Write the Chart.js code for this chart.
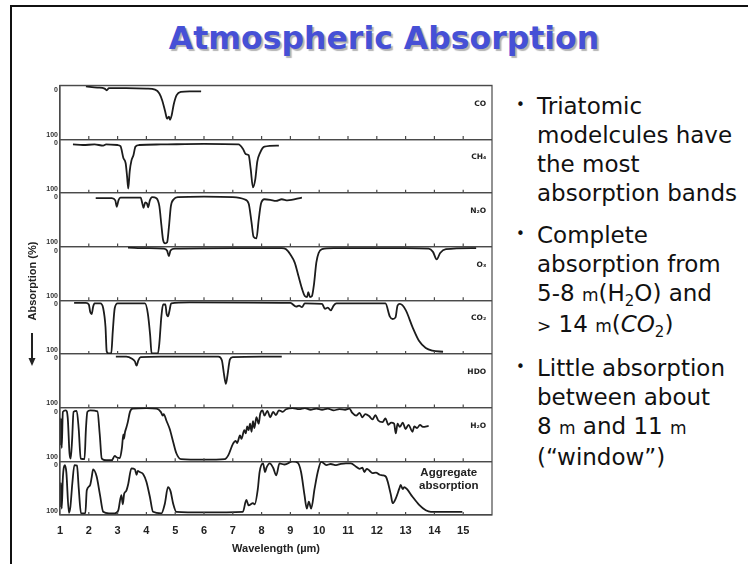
<!DOCTYPE html>
<html>
<head>
<meta charset="utf-8">
<script src="https://cdn.jsdelivr.net/npm/chart.js@4.4.1/dist/chart.umd.min.js"></script>
<style>
  html, body { margin: 0; padding: 0; background: #fff; }
  #slide { position: relative; width: 748px; height: 564px; overflow: hidden; }
  #frame { position: absolute; left: 10px; top: 5px; width: 800px; height: 600px;
           border-left: 2px solid #111; border-top: 2px solid #111; }
  #title { position: absolute; left: 10px; width: 748px; top: 20px; text-align: center;
           font: bold 31.5px "DejaVu Sans", sans-serif; color: #4650d6;
           text-shadow: 2px 2px 1px #b4b4b4; }
  #chartBox { position: absolute; left: 0; top: 75px; width: 500px; height: 489px; }
  #notes { position: absolute; left: 537px; top: 91.6px; margin: 0; padding: 0; list-style: none;
           font: 23px/29px "DejaVu Sans", sans-serif; color: #111; white-space: nowrap; }
  #notes li { position: relative; margin: 0 0 13px 0; }
  #notes li::before { content: "\2022"; position: absolute; left: -21px; top: -1px; font-size: 15px; }
  #notes small { font-size: 17px; }
  #notes sub { font-size: 15px; line-height: 0; vertical-align: -0.3em; }
</style>
</head>
<body>
<div id="slide">
  <div id="frame"></div>
  <div id="title">Atmospheric Absorption</div>
  <div id="chartBox"><canvas id="chart" width="500" height="489"></canvas></div>
  <ul id="notes">
    <li>Triatomic<br>modelcules have<br>the most<br>absorption bands</li>
    <li>Complete<br>absorption from<br>5-8 <small>m</small>(H<sub>2</sub>O) and<br><small>&gt;</small> 14 <small>m</small>(<i>CO</i><sub>2</sub>)</li>
    <li>Little absorption<br>between about<br>8 <small>m</small> and 11 <small>m</small><br>(“window”)</li>
  </ul>
</div>
<script>
// wavelength axis (µm) and panel labels, top to bottom
const xTicks = [1, 2, 3, 4, 5, 6, 7, 8, 9, 10, 11, 12, 13, 14, 15];
const yTicks = [0, 100];
const panelNames = ['CO', 'CH₄', 'N₂O', 'O₃', 'CO₂', 'HDO', 'H₂O', 'Aggregate absorption'];

// absorption (%)
const coWl  = [1.9, 2.3, 2.55, 2.62, 2.7, 3.3, 4.0, 4.3, 4.45, 4.55, 4.65, 4.72, 4.78, 4.82, 4.88, 4.95, 5.05, 5.2, 5.5, 5.9];
const coAbs = [2, 4, 6, 9, 5, 5, 6, 8, 15, 28, 48, 62, 58, 64, 55, 35, 18, 12, 11, 11];

const ch4Wl  = [1.45, 1.8, 2.2, 2.5, 2.6, 3.0, 3.1, 3.2, 3.28, 3.33, 3.37, 3.42, 3.48, 3.55, 3.62, 3.75, 4.5, 6.0, 7.2, 7.35, 7.45, 7.55, 7.62, 7.7, 7.78, 7.85, 7.95, 8.1, 8.6];
const ch4Abs = [10, 11, 10, 12, 10, 11, 13, 35, 45, 70, 92, 60, 40, 30, 14, 11, 10, 9, 10, 18, 28, 30, 55, 90, 75, 42, 25, 14, 12];

const n2oWl  = [2.24, 2.8, 2.92, 2.97, 3.03, 3.1, 3.8, 3.86, 3.9, 3.96, 4.02, 4.06, 4.12, 4.2, 4.35, 4.45, 4.52, 4.58, 4.65, 4.72, 4.78, 4.85, 4.95, 5.1, 6.0, 7.0, 7.4, 7.55, 7.65, 7.72, 7.82, 7.9, 7.98, 8.1, 8.3, 8.5, 8.7, 8.9, 9.4];
const n2oAbs = [10, 10, 14, 26, 14, 9, 9, 20, 28, 18, 20, 27, 14, 8, 10, 25, 60, 88, 94, 92, 65, 25, 12, 8, 7, 8, 12, 20, 55, 82, 85, 50, 20, 12, 13, 15, 12, 14, 9];

const o3Wl  = [3.36, 4.0, 4.6, 4.72, 4.78, 4.84, 5.0, 7.0, 8.7, 8.85, 9.0, 9.15, 9.28, 9.4, 9.5, 9.58, 9.62, 9.68, 9.75, 9.82, 9.9, 9.98, 10.1, 10.5, 13.0, 13.8, 13.95, 14.08, 14.2, 14.4, 15.45];
const o3Abs = [2, 3, 4, 8, 18, 7, 4, 3, 3, 5, 15, 30, 55, 78, 92, 94, 85, 94, 92, 70, 30, 12, 5, 3, 3, 4, 10, 24, 12, 5, 3];

const co2Wl  = [1.49, 1.9, 2.0, 2.05, 2.1, 2.15, 2.2, 2.4, 2.5, 2.58, 2.62, 2.68, 2.78, 2.83, 2.9, 3.0, 3.95, 4.05, 4.13, 4.18, 4.4, 4.45, 4.52, 4.58, 4.66, 4.7, 4.75, 4.8, 4.86, 5.5, 9.0, 9.2, 9.3, 9.4, 9.5, 10.1, 10.2, 10.3, 10.4, 10.5, 10.6, 12.3, 12.45, 12.55, 12.65, 12.72, 12.8, 13.0, 13.24, 13.47, 13.7, 13.93, 14.3];
const co2Abs = [5, 5, 8, 22, 26, 12, 6, 6, 15, 50, 95, 99, 99, 60, 15, 6, 6, 25, 65, 99, 99, 80, 30, 8, 8, 25, 30, 20, 6, 4, 5, 12, 10, 13, 6, 7, 16, 14, 19, 10, 6, 6, 30, 35, 32, 10, 7, 18, 50, 76, 89, 94, 96];

const hdoWl  = [2.94, 3.3, 3.5, 3.6, 3.66, 3.72, 3.8, 4.5, 6.5, 6.62, 6.7, 6.76, 6.82, 6.9, 7.0, 8.0, 8.7];
const hdoAbs = [5, 5, 9, 14, 22, 12, 6, 5, 5, 12, 40, 56, 38, 10, 6, 5, 5];

const h2oWl  = [1.0, 1.03, 1.06, 1.1, 1.2, 1.27, 1.33, 1.37, 1.42, 1.47, 1.58, 1.65, 1.72, 1.85, 1.9, 1.95, 2.05, 2.3, 2.38, 2.45, 2.6, 2.8, 2.9, 2.98, 3.08, 3.15, 3.2, 3.22, 3.26, 3.3, 3.35, 3.43, 3.52, 4.0, 4.35, 4.5, 4.57, 4.6, 4.7, 4.81, 4.93, 5.04, 5.2, 6.0, 6.72, 6.85, 7.0, 7.1, 7.15, 7.25, 7.3, 7.4, 7.45, 7.5, 7.55, 7.6, 7.65, 7.7, 7.75, 7.82, 7.9, 7.95, 8.03, 8.1, 8.2, 8.3, 8.4, 8.5, 8.6, 8.73, 8.85, 9.08, 9.3, 9.5, 9.7, 9.9, 10.1, 10.3, 10.5, 10.7, 10.9, 11.05, 11.15, 11.28, 11.4, 11.5, 11.6, 11.74, 11.85, 11.95, 12.05, 12.2, 12.3, 12.4, 12.5, 12.6, 12.66, 12.72, 12.8, 12.9, 13.0, 13.1, 13.24, 13.3, 13.4, 13.5, 13.6, 13.8];
const h2oAbs = [70, 20, 75, 8, 5, 20, 85, 95, 60, 8, 6, 40, 95, 96, 40, 8, 5, 7, 50, 95, 98, 98, 90, 93, 94, 75, 50, 58, 45, 38, 28, 8, 2, 1, 2, 8, 15, 12, 25, 40, 64, 85, 96, 97, 96, 88, 68, 62, 66, 52, 58, 42, 48, 35, 42, 30, 45, 25, 38, 18, 30, 12, 5, 15, 6, 18, 8, 14, 5, 8, 3, 1, 3, 1, 4, 2, 4, 2, 5, 3, 4, 2, 10, 15, 10, 18, 12, 16, 22, 14, 24, 27, 20, 32, 28, 30, 48, 30, 36, 28, 40, 32, 45, 35, 38, 32, 36, 34];

const aggWl  = [1.0, 1.03, 1.06, 1.1, 1.17, 1.22, 1.31, 1.36, 1.43, 1.5, 1.59, 1.65, 1.73, 1.88, 1.93, 2.04, 2.1, 2.15, 2.27, 2.39, 2.5, 2.7, 2.9, 3.02, 3.13, 3.18, 3.23, 3.3, 3.37, 3.48, 3.6, 3.66, 3.7, 3.77, 3.89, 4.0, 4.12, 4.23, 4.52, 4.64, 4.75, 4.84, 4.93, 5.04, 6.0, 7.35, 7.47, 7.55, 7.7, 7.76, 7.87, 7.93, 8.05, 8.12, 8.17, 8.28, 8.4, 8.51, 8.62, 8.8, 9.08, 9.26, 9.37, 9.49, 9.57, 9.64, 9.72, 9.84, 9.95, 10.07, 10.25, 10.4, 10.59, 10.75, 10.93, 11.1, 11.28, 11.4, 11.5, 11.57, 11.65, 11.74, 11.85, 11.97, 12.1, 12.2, 12.32, 12.38, 12.49, 12.55, 12.66, 12.78, 12.83, 12.9, 12.95, 13.05, 13.24, 13.47, 13.7, 13.88, 14.97];
const aggAbs = [85, 40, 88, 30, 7, 20, 96, 85, 40, 7, 8, 50, 97, 97, 54, 45, 30, 15, 28, 63, 94, 97, 97, 92, 63, 80, 60, 55, 42, 13, 15, 25, 18, 20, 24, 38, 66, 94, 97, 79, 48, 56, 79, 94, 95, 94, 72, 82, 78, 80, 51, 20, 4, 20, 12, 4, 12, 26, 4, 6, 0, 3, 20, 63, 88, 75, 88, 51, 20, 1, 7, 5, 7, 5, 4, 4, 10, 14, 12, 20, 14, 17, 22, 21, 25, 26, 29, 38, 63, 78, 69, 51, 44, 52, 48, 52, 66, 81, 91, 94, 94];

const series = [
  [coWl, coAbs], [ch4Wl, ch4Abs], [n2oWl, n2oAbs], [o3Wl, o3Abs],
  [co2Wl, co2Abs], [hdoWl, hdoAbs], [h2oWl, h2oAbs], [aggWl, aggAbs]
];
const panelIds = series.map((_, i) => 'p' + i);

const tickFont = { family: 'Liberation Sans', size: 11, weight: 'bold' };

function panelAxis() {
  return {
    type: 'linear', position: 'left', stack: 'panels', stackWeight: 1,
    reverse: true, min: 0, max: 100,
    afterBuildTicks: ax => { ax.ticks = yTicks.map(v => ({ value: v })); },
    afterFit: ax => { ax.width = 20; },
    grid: { color: '#4a4a4a', lineWidth: 1.2, drawTicks: false },
    border: { display: true, color: '#4a4a4a', width: 1.2 },
    ticks: {
      padding: 2, color: '#333',
      font: { family: 'Liberation Sans', size: 7, weight: 'bold' },
      // push 0 below the panel top and 100 above the panel floor
      callback: v => v === 0 ? ['', '0'] : ['100', '']
    }
  };
}

const scales = {
  x: {
    type: 'linear', position: 'bottom', min: 1, max: 16,
    afterBuildTicks: ax => { ax.ticks = xTicks.map(v => ({ value: v })); },
    afterFit: ax => { ax.height = 41; },
    grid: { display: false, drawTicks: false }, border: { display: false },
    ticks: { padding: 9, color: '#222', font: tickFont, maxRotation: 0, autoSkip: false },
    title: { display: true, text: 'Wavelength (µm)', color: '#222', font: tickFont, padding: { top: 0, bottom: 0 } }
  }
};
// left stacks are laid out last-defined on top, so add the bottom panel first
for (let i = panelIds.length - 1; i >= 0; i--) scales[panelIds[i]] = panelAxis();

const panelDecor = {
  id: 'panelDecor',
  afterDraw(chart) {
    const { ctx, chartArea: a } = chart;
    const xs = chart.scales.x;
    ctx.save();
    ctx.strokeStyle = '#4a4a4a';
    ctx.lineWidth = 1.2;
    ctx.strokeRect(a.left, a.top, a.right - a.left, a.bottom - a.top);
    ctx.beginPath();
    panelIds.forEach(id => {
      const yb = chart.scales[id].getPixelForValue(100);
      xTicks.slice(1).forEach(v => {
        const px = xs.getPixelForValue(v);
        ctx.moveTo(px, yb); ctx.lineTo(px, yb - 3);
      });
    });
    ctx.stroke();

    // gas names at the right of each panel
    ctx.fillStyle = '#222';
    ctx.textAlign = 'right';
    ctx.textBaseline = 'middle';
    ctx.font = 'bold 7.5px "DejaVu Sans"';
    panelNames.slice(0, 7).forEach((name, i) => {
      ctx.fillText(name, xs.getPixelForValue(15.8), chart.scales[panelIds[i]].getPixelForValue(34));
    });
    const last = chart.scales[panelIds[7]];
    ctx.textAlign = 'center';
    ctx.font = 'bold 11.5px "Liberation Sans"';
    const [w1, w2] = panelNames[7].split(' ');
    ctx.fillText(w1, xs.getPixelForValue(14.5), last.getPixelForValue(21));
    ctx.fillText(w2, xs.getPixelForValue(14.5), last.getPixelForValue(46));

    // y title with the downward arrow
    ctx.save();
    ctx.translate(33, 206);
    ctx.rotate(-Math.PI / 2);
    ctx.font = 'bold 11px "Liberation Sans"';
    ctx.fillText('Absorption (%)', 0, 0);
    ctx.restore();
    ctx.strokeStyle = '#222';
    ctx.lineWidth = 2;
    ctx.beginPath();
    ctx.moveTo(32, 258); ctx.lineTo(32, 284);
    ctx.stroke();
    ctx.beginPath();
    ctx.moveTo(28.5, 283); ctx.lineTo(35.5, 283); ctx.lineTo(32, 291); ctx.closePath();
    ctx.fill();
    ctx.restore();
  }
};

new Chart(document.getElementById('chart'), {
  type: 'line',
  data: {
    datasets: series.map(([wl, abs], i) => ({
      label: panelNames[i],
      data: wl.map((x, j) => ({ x, y: abs[j] })),
      yAxisID: panelIds[i],
      borderColor: '#1c1c1c',
      borderWidth: 1.8,
      pointRadius: 0,
      cubicInterpolationMode: 'monotone',
      fill: false
    }))
  },
  options: {
    responsive: false,
    animation: false,
    layout: { padding: { left: 40, right: 8, top: 8, bottom: 8 } },
    plugins: { legend: { display: false }, tooltip: { enabled: false } },
    scales: scales
  },
  plugins: [panelDecor]
});
</script>
</body>
</html>
